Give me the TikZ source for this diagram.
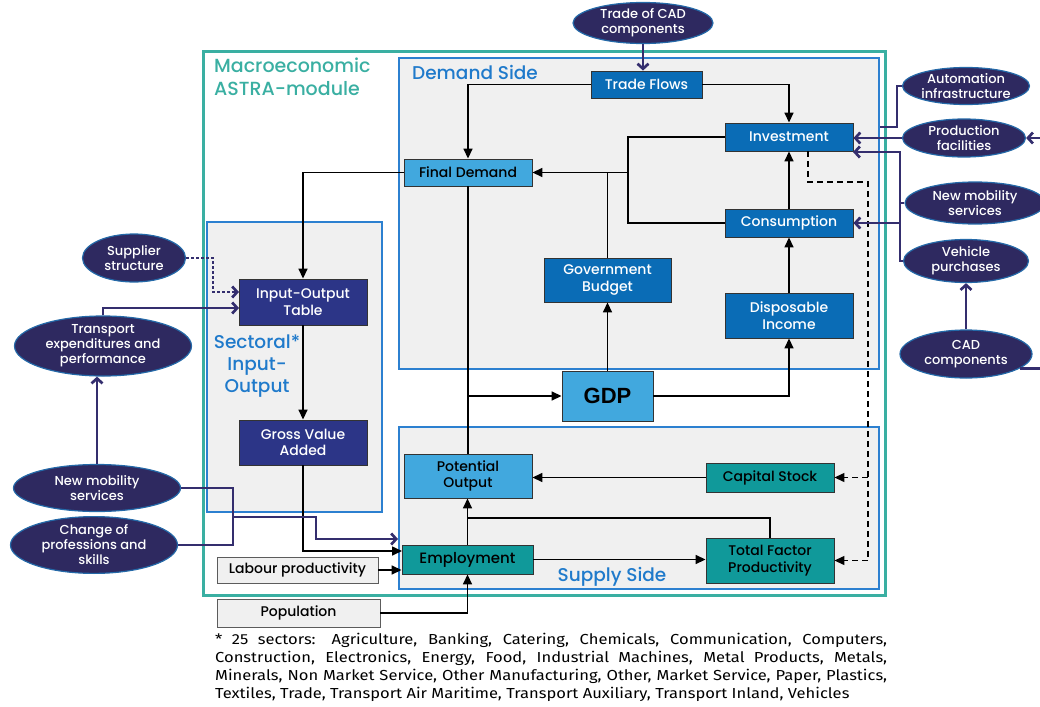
\documentclass[tikz,border=0pt]{standalone}
\usepackage{fontspec}
\setmainfont{Poppins Medium}
\newfontfamily\gdpfont{Liberation Sans}
\newfontfamily\notefont{Fira Sans}[FakeStretch=1.14]
\usetikzlibrary{shapes.geometric,arrows.meta}
\definecolor{tealframe}{HTML}{3AAFA2}
\definecolor{sidetitle}{HTML}{1F7ACB}
\definecolor{sideline}{HTML}{2C80D0}
\definecolor{sidefill}{HTML}{F0F0F0}
\definecolor{dkblue}{HTML}{0A6CB6}
\definecolor{ltblue}{HTML}{41A8DE}
\definecolor{tealbox}{HTML}{10999A}
\definecolor{navybox}{HTML}{2C3587}
\definecolor{ellfill}{HTML}{2E2960}
\definecolor{ellring}{HTML}{2469A8}
\definecolor{navyline}{HTML}{342E6E}
\definecolor{boxline}{HTML}{333333}
\begin{document}
\begin{tikzpicture}[x=1pt,y=-1pt,
  box/.style={draw=boxline, line width=0.9pt, inner sep=1pt, align=center, font=\fontsize{14}{16.5}\selectfont},
  dbox/.style={box, fill=dkblue, text=white},
  lbox/.style={box, fill=ltblue, text=black},
  tbox/.style={box, fill=tealbox, text=black},
  nbox/.style={box, fill=navybox, text=white},
  gbox/.style={box, fill=sidefill, draw=boxline!80},
  ell/.style={ellipse, draw=ellring, line width=1.2pt, fill=ellfill, text=white, align=center, inner sep=0pt, font=\fontsize{13}{15}\selectfont},
  flow/.style={black, line width=1.6pt, -{Triangle[length=10pt,width=9pt]}},
  plain/.style={black, line width=1.6pt},
  dflow/.style={black, line width=1.4pt, dash pattern=on 6pt off 4pt, -{Triangle[length=10pt,width=9pt]}},
  nflow/.style={navyline, line width=2.7pt, -{Straight Barb[length=5pt,width=11pt]}},
  nplain/.style={navyline, line width=2.7pt},
  sidebox/.style={draw=sideline, line width=1.3pt, fill=sidefill},
  ttl/.style={inner sep=0pt, text=sidetitle, font=\fontsize{18.5}{22}\selectfont, align=center}
]
\useasboundingbox (0,0) rectangle (1040,706);
% frames
\draw[tealframe, line width=3pt] (203,52) rectangle (885,595);
\draw[sidebox] (399,58) rectangle (879,369);
\draw[sidebox] (399,427) rectangle (879,589);
\draw[sidebox] (207,222) rectangle (382,512);
% titles
\node[inner sep=0pt, anchor=north west, text=tealframe, font=\fontsize{19}{23}\selectfont, align=left] (tmacro) at (214,58) {Macroeconomic\\ASTRA-module};
\node[ttl, anchor=west] (tdemand) at (412,72) {Demand Side};
\node[ttl] (tsupply) at (612,577) {Supply Side};
\node[ttl] (tsector) at (257,366) {Sectoral*\\Input-\\Output};
% demand side nodes
\node[dbox, minimum width=111pt, minimum height=27pt] (tf) at (646.5,84.5) {Trade Flows};
\node[dbox, minimum width=128pt, minimum height=28pt] (inv) at (789,137) {Investment};
\node[lbox, minimum width=128pt, minimum height=27pt] (fd) at (468,172.5) {Final Demand};
\node[dbox, minimum width=128pt, minimum height=28pt] (con) at (789,223) {Consumption};
\node[dbox, minimum width=127pt, minimum height=44pt] (gov) at (607.5,280) {Government\\Budget};
\node[dbox, minimum width=128pt, minimum height=45pt] (di) at (789,315.5) {Disposable\\Income};
\node[lbox, minimum width=91pt, minimum height=50pt, font=\gdpfont\bfseries\fontsize{22}{24}\selectfont] (gdp) at (607.5,396) {GDP};
% supply side nodes
\node[lbox, minimum width=128pt, minimum height=44pt] (po) at (468,476) {Potential\\Output};
\node[tbox, minimum width=128pt, minimum height=29pt] (cs) at (770,477.5) {Capital Stock};
\node[tbox, minimum width=131pt, minimum height=29pt, font=\fontsize{15}{17}\selectfont] (emp) at (467.5,559.5) {Employment};
\node[tbox, minimum width=128pt, minimum height=45pt] (tfp) at (770,560.5) {Total Factor\\Productivity};
% sectoral
\node[nbox, minimum width=128pt, minimum height=46pt] (iot) at (303,302) {Input-Output\\Table};
\node[nbox, minimum width=128pt, minimum height=45pt] (gva) at (303,442.5) {Gross Value\\Added};
\node[gbox, minimum width=161pt, minimum height=26pt] (lp) at (297.5,570) {Labour productivity};
\node[gbox, minimum width=163pt, minimum height=28pt] (pop) at (298.5,613) {Population};
% ellipses
\node[ell, minimum width=140pt, minimum height=41pt] (tcad) at (643,23) {Trade of CAD\\components};
\node[ell, minimum width=127pt, minimum height=37pt] (auto) at (966,86) {Automation\\infrastructure};
\node[ell, minimum width=123pt, minimum height=38pt] (prod) at (964,138) {Production\\facilities};
\node[ell, minimum width=140pt, minimum height=42pt] (nmsR) at (975,203) {New mobility\\services};
\node[ell, minimum width=125pt, minimum height=43pt] (vp) at (966,261) {Vehicle\\purchases};
\node[ell, minimum width=132pt, minimum height=48pt] (cad) at (966,354) {CAD\\components};
\node[ell, minimum width=103pt, minimum height=48pt] (sup) at (134,258) {Supplier\\structure};
\node[ell, minimum width=177pt, minimum height=52pt] (tep) at (103,346) {Transport\\expenditures and\\performance};
\node[ell, minimum width=167pt, minimum height=47pt] (nmsL) at (97,488) {New mobility\\services};
\node[ell, minimum width=167pt, minimum height=55pt] (cps) at (94,545) {Change of\\professions and\\skills};
% helper coordinates
\coordinate (j) at (628,172.5);
\coordinate (empin1) at (402,551);
\coordinate (k) at (233,517);
\coordinate (k2) at (316,517);
\coordinate (supin) at (398,539);
\coordinate (iotin1) at (239,292);
\coordinate (iotin2) at (239,308);
\coordinate (sd) at (213,292);
\coordinate (ra) at (897,127);
\coordinate (raend) at (880,127);
\coordinate (rv) at (900,152);
\coordinate (invin2) at (853,152);
\coordinate (rc) at (900,223);
\coordinate (offR1) at (1040,138);
\coordinate (offR2) at (1040,362);
\coordinate (dx) at (808,182);
\coordinate (d1) at (868,182);
\coordinate (tj) at (468,518);
% demand connectors
\draw[nflow] (tcad.south) -- (tcad.south |- tf.north);
\draw[flow] (tf.west) -| (fd.north);
\draw[flow] (tf.east) -| (inv.north);
\draw[flow] (inv.west) -| (j) -- (fd.east);
\draw[plain] (con.west) -| (j);
\draw[plain] (gov.north) -- (gov.north |- j);
\draw[flow] (con.north) -- (inv.south);
\draw[flow] (di.north) -- (con.south);
\draw[flow] (gdp.north) -- (gov.south);
\draw[flow] (gdp.east) -| (di.south);
\draw[flow] (fd.west) -| (iot.north);
\draw[plain] (fd.south) -- (po.north);
\draw[flow] (fd.south |- gdp.west) -- (gdp.west);
% sectoral connectors
\draw[flow] (iot.south) -- (gva.north);
\draw[flow] (gva.south) |- (empin1);
\draw[flow] (lp.east) -- (lp.east -| emp.west);
\draw[flow] (pop.east) -| (emp.south);
% supply connectors
\draw[flow] (cs.west) -- (cs.west -| po.east);
\draw[flow] (emp.north) -- (emp.north |- po.south);
\draw[plain] (tfp.north) |- (tj);
\draw[flow] (emp.east) -- (emp.east -| tfp.west);
\draw[black, line width=1.4pt, dash pattern=on 6pt off 4pt] (dx |- inv.south) -- (dx) -- (d1) -- (tfp.east -| d1);
\draw[dflow] (cs.east -| d1) -- (cs.east);
\draw[dflow] (tfp.east -| d1) -- (tfp.east);
% left navy connectors
\draw[nplain] (nmsL.east) -| (k);
\draw[nplain] (cps.east) -| (k);
\draw[nflow] (k) -- (k2) |- (supin);
\draw[nflow] (nmsL.north) -- (nmsL.north |- tep.south);
\draw[nflow] (tep.north) |- (iotin2);
\draw[navyline, line width=2.7pt, dash pattern=on 2.5pt off 2.5pt, -{Straight Barb[length=5pt,width=11pt]}] (sup.east) -| (sd) -- (iotin1);
% right navy connectors
\draw[nplain] (auto.west) -| (ra) -- (raend);
\draw[nflow] (prod.west) -- (prod.west -| inv.east);
\draw[nflow] (offR1) -- (prod.east);
\draw[nflow] (vp.west) -| (rv) -- (invin2);
\draw[nplain] (nmsR.west) -- (nmsR.west -| rv);
\draw[nflow] (rc) -- (con.east);
\draw[nflow] (cad.north) -- (vp.south);
\draw[nplain] (cad.-15) -- (cad.-15 -| offR2);
% footnote
\node[anchor=north west, inner sep=0pt, text width=672pt, align=justify, text=black, font=\notefont\fontsize{14.5}{18}\selectfont] (note) at (215,633) {* 25 sectors: Agriculture, Banking, Catering, Chemicals, Communication, Computers,\linebreak Construction, Electronics, Energy, Food, Industrial Machines, Metal Products, Metals,\linebreak Minerals, Non Market Service, Other Manufacturing, Other, Market Service, Paper, Plastics,\linebreak Textiles, Trade, Transport Air Maritime, Transport Auxiliary, Transport Inland, Vehicles};
\end{tikzpicture}
\end{document}
